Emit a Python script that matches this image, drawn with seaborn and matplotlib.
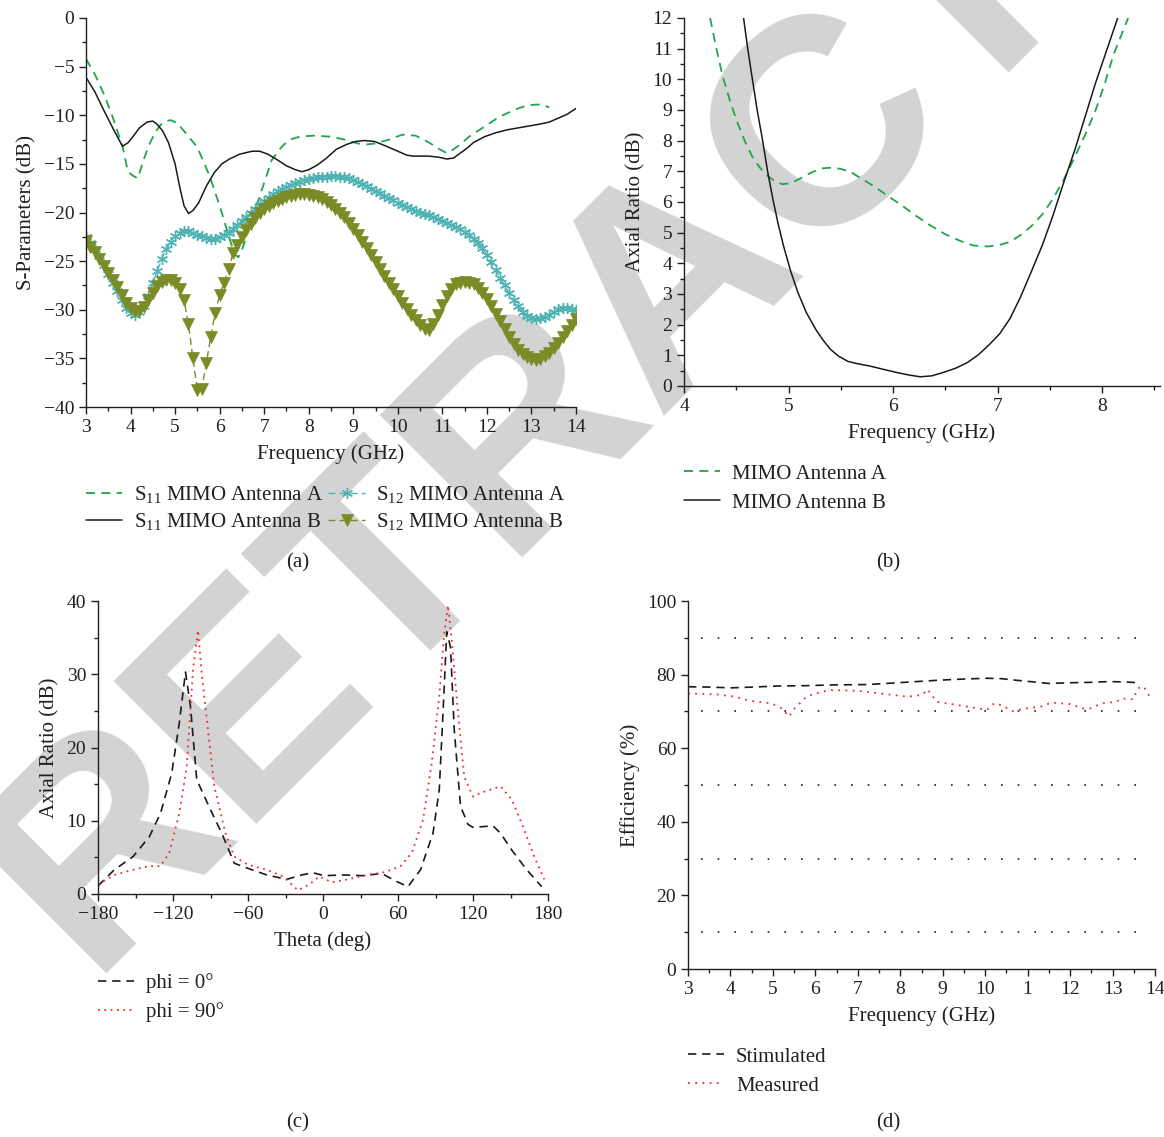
import numpy as np
import pandas as pd
import matplotlib
matplotlib.use("Agg")
import matplotlib.pyplot as plt
import seaborn as sns
from matplotlib.ticker import MultipleLocator, FixedLocator

# ---------------- data ----------------
# (a) S-parameters
s11a_f = [3.0, 3.2, 3.4, 3.6, 3.82, 3.94, 4.05, 4.16, 4.3, 4.42, 4.55, 4.67, 4.8, 4.9, 5.05, 5.27, 5.5, 5.78,
          6.0, 6.23, 6.34, 6.42, 6.52, 6.72, 6.91, 7.17, 7.4, 7.58, 7.8, 8.1, 8.5, 8.8, 9.1, 9.3, 9.5, 9.8,
          10.1, 10.4, 10.7, 10.9, 11.1, 11.25, 11.4, 11.6, 11.9, 12.2, 12.4, 12.7, 12.9, 13.1, 13.25, 13.4]
s11a_db = [-4.2, -5.8, -7.8, -10.2, -13.2, -15.8, -16.2, -16.5, -14.5, -13, -11.8, -11, -10.6, -10.5, -10.8,
           -12.0, -13.3, -16.3, -19.3, -22.8, -24.3, -24.6, -23.6, -20.8, -18.2, -14.6, -13.2, -12.5, -12.2,
           -12.1, -12.2, -12.5, -12.9, -13.0, -12.9, -12.5, -12.0, -12.1, -12.8, -13.4, -13.9, -13.5, -13.0,
           -12.2, -11.3, -10.4, -9.9, -9.3, -9.0, -8.9, -8.9, -9.2]

s11b_f = [3, 3.2, 3.39, 3.6, 3.82, 3.95, 4.07, 4.2, 4.37, 4.5, 4.59, 4.72, 4.85, 5.0, 5.1, 5.2, 5.3, 5.4, 5.53,
          5.7, 5.88, 6.05, 6.22, 6.45, 6.73, 6.9, 7.08, 7.3, 7.5, 7.7, 7.85, 8.0, 8.2, 8.4, 8.62, 8.85, 9.05,
          9.25, 9.48, 9.75, 10.0, 10.2, 10.34, 10.5, 10.68, 10.9, 11.1, 11.25, 11.37, 11.55, 11.7, 11.95,
          12.2, 12.45, 12.7, 12.95, 13.2, 13.4, 13.55, 13.8, 14.0]
s11b_db = [-6.1, -7.6, -9.4, -11.3, -13.2, -12.8, -12.1, -11.3, -10.7, -10.6, -10.9, -11.6, -12.8, -15.0,
           -17.3, -19.3, -20.1, -19.8, -19.0, -17.3, -15.9, -15.0, -14.5, -14.0, -13.7, -13.7, -14.0, -14.6,
           -15.2, -15.6, -15.8, -15.6, -15.1, -14.4, -13.5, -13.0, -12.7, -12.6, -12.7, -13.2, -13.7, -14.1,
           -14.2, -14.2, -14.2, -14.3, -14.5, -14.4, -14.0, -13.4, -12.8, -12.2, -11.8, -11.5, -11.3, -11.1,
           -10.9, -10.7, -10.4, -9.9, -9.3]

s12_f = [round(3.0 + 0.1 * i, 1) for i in range(111)]
s12a_db = [-22.5, -23.1, -23.8, -24.5, -25.4, -26.3, -27.2, -28.1, -29.0, -29.8,
           -30.3, -30.5, -30.2, -29.6, -28.6, -27.3, -26.0, -24.8, -23.8, -23.0,
           -22.4, -22.1, -21.9, -21.9, -22.1, -22.3, -22.4, -22.6, -22.7, -22.7,
           -22.5, -22.3, -22.1, -21.7, -21.3, -20.9, -20.5, -20.0, -19.6, -19.2,
           -18.8, -18.5, -18.1, -17.8, -17.6, -17.4, -17.2, -17.0, -16.9, -16.7,
           -16.6, -16.5, -16.4, -16.3, -16.3, -16.2, -16.2, -16.3, -16.4, -16.5,
           -16.7, -16.9, -17.1, -17.3, -17.6, -17.8, -18.0, -18.3, -18.5, -18.7,
           -19.0, -19.2, -19.4, -19.6, -19.8, -20.0, -20.2, -20.3, -20.5, -20.7,
           -20.9, -21.1, -21.3, -21.5, -21.7, -22.0, -22.3, -22.7, -23.1, -23.7,
           -24.4, -25.1, -25.9, -26.7, -27.5, -28.3, -29.0, -29.6, -30.2, -30.6,
           -30.8, -30.9, -30.8, -30.7, -30.5, -30.2, -29.9, -29.8, -29.8, -29.9, -30.0]
s12b_db = [-22.9, -23.5, -24.1, -24.8, -25.5, -26.2, -26.9, -27.7, -28.5, -29.3,
           -29.8, -30.1, -30.1, -29.7, -29.0, -28.3, -27.6, -27.1, -26.9, -26.9,
           -27.3, -27.9, -29.0, -31.5, -35.0, -38.3, -38.1, -35.5, -32.8, -30.3,
           -28.5, -27.2, -25.8, -24.2, -23.3, -22.5, -21.8, -21.2, -20.6, -20.1,
           -19.6, -19.3, -19.0, -18.8, -18.6, -18.4, -18.3, -18.2, -18.1, -18.1,
           -18.2, -18.3, -18.4, -18.6, -18.9, -19.2, -19.6, -20.0, -20.5, -21.1,
           -21.7, -22.3, -23.0, -23.7, -24.4, -25.1, -25.8, -26.5, -27.2, -27.9,
           -28.6, -29.3, -29.9, -30.5, -31.1, -31.6, -32.0, -32.1, -31.5, -30.5,
           -29.5, -28.6, -27.9, -27.4, -27.2, -27.1, -27.2, -27.4, -27.8, -28.3,
           -28.9, -29.6, -30.4, -31.2, -32.0, -32.8, -33.5, -34.1, -34.6, -34.9,
           -35.1, -35.2, -35.1, -34.8, -34.4, -33.9, -33.4, -32.8, -32.2, -31.6, -31.0]

# (b) axial ratio vs frequency
ara_f = [4.25, 4.31, 4.37, 4.44, 4.51, 4.58, 4.65, 4.72, 4.78, 4.86, 4.94, 5.03, 5.13, 5.23, 5.33, 5.42, 5.5,
         5.6, 5.68, 5.8, 5.95, 6.1, 6.22, 6.35, 6.5, 6.65, 6.77, 6.91, 7.02, 7.12, 7.22, 7.32, 7.43, 7.53,
         7.63, 7.73, 7.84, 7.94, 8.03, 8.11, 8.18, 8.25]
ara_db = [12, 11.0, 10.1, 9.3, 8.6, 8.0, 7.5, 7.15, 6.9, 6.7, 6.58, 6.62, 6.8, 6.98, 7.1, 7.12, 7.08, 6.97,
          6.8, 6.55, 6.2, 5.85, 5.55, 5.25, 4.95, 4.72, 4.58, 4.55, 4.6, 4.7, 4.92, 5.2, 5.6, 6.1, 6.7, 7.4,
          8.2, 9.0, 9.9, 10.8, 11.4, 12]
arb_f = [4.57, 4.61, 4.65, 4.7, 4.75, 4.8, 4.85, 4.9, 4.95, 5.02, 5.09, 5.17, 5.26, 5.33, 5.4, 5.48, 5.57,
         5.67, 5.78, 5.9, 6.05, 6.15, 6.26, 6.37, 6.47, 6.6, 6.71, 6.81, 6.91, 7.02, 7.12, 7.22, 7.32, 7.43,
         7.53, 7.63, 7.74, 7.84, 7.94, 8.05, 8.15]
arb_db = [12, 11.0, 10.1, 9.0, 8.05, 7.0, 6.1, 5.3, 4.6, 3.75, 3.05, 2.4, 1.85, 1.5, 1.2, 0.97, 0.8, 0.72,
          0.65, 0.55, 0.43, 0.36, 0.3, 0.33, 0.43, 0.58, 0.76, 1.0, 1.31, 1.7, 2.2, 2.9, 3.7, 4.6, 5.55,
          6.6, 7.7, 8.8, 9.9, 11.0, 12]

# (c) axial ratio vs theta
th0 = [-180, -167, -152, -139, -130, -121, -115, -110, -106, -101, -90, -81, -71, -60, -45, -29, -17, -8, 1,
       16, 32, 47, 59, 68, 78, 88, 93, 96, 99, 102, 105, 110, 116, 120, 136, 142, 151, 163, 175]
ar_phi0 = [1.1, 3.3, 5.1, 7.8, 11, 16.5, 23.3, 30.3, 25.6, 15.6, 11.5, 8.3, 4.2, 3.5, 2.6, 2.0, 2.6, 2.9,
           2.5, 2.6, 2.5, 2.8, 1.7, 1.0, 3.3, 8.3, 14.2, 24.7, 35.8, 33.7, 22.4, 12, 9.5, 9.1, 9.3, 8.3, 6,
           3.3, 1.0]
th90 = [-180, -167, -152, -139, -130, -123, -115, -109, -104, -100, -97, -92, -87, -78, -71, -60, -45, -32,
        -20, -11, -3, 7, 20, 35, 50, 62, 71, 80, 87, 93, 97, 100, 103, 108, 113, 120, 126, 142, 151, 160,
        169, 177]
ar_phi90 = [1.3, 2.6, 3.3, 3.8, 3.8, 5.6, 11, 17.4, 30.6, 36, 30.1, 22.4, 14.7, 8.3, 5.1, 4.0, 3.3, 2.4,
            0.5, 1.3, 2.4, 1.6, 2.0, 2.6, 3.0, 3.8, 5.6, 10.1, 17.9, 27, 35.6, 39.4, 34.6, 24.7, 16, 13.3,
            13.8, 14.7, 12.9, 9.2, 5.1, 2.0]

# (d) efficiency
sim_f = [3, 3.5, 4.03, 4.5, 5.13, 5.8, 6.4, 7.25, 8.1, 8.94, 9.5, 10.04, 10.38, 10.7, 11.06, 11.49, 12.07,
         12.5, 12.92, 13.3, 13.58]
sim_eff = [76.7, 76.6, 76.4, 76.6, 76.9, 77.0, 77.2, 77.3, 77.9, 78.5, 78.8, 79.0, 78.9, 78.5, 78.1, 77.6,
           77.8, 77.9, 78.1, 78.0, 77.8]
meas_f = [3, 3.69, 4.11, 4.45, 4.96, 5.21, 5.38, 5.51, 5.81, 6.32, 7.0, 7.5, 8.18, 8.52, 8.64, 8.86, 9.36,
          10.04, 10.21, 10.38, 10.64, 10.97, 11.31, 11.56, 11.99, 12.31, 12.47, 12.63, 12.77, 12.93, 13.08,
          13.22, 13.36, 13.49, 13.55, 13.63, 13.74, 13.82, 13.9]
meas_eff = [74.9, 74.6, 74.0, 72.9, 72.2, 70.8, 68.6, 70.8, 74.2, 75.8, 75.6, 74.9, 74.0, 74.5, 76.0, 72.6,
            71.7, 70.4, 72.2, 71.7, 70.1, 70.8, 71.3, 72.4, 72.0, 70.8, 70.8, 71.6, 72.2, 72.4, 72.6, 73.5,
            73.4, 73.3, 75.1, 76.5, 76.7, 75.1, 73.5]
eff_grid_levels = [10, 30, 50, 70, 90]
eff_xticks = [3, 4, 5, 6, 7, 8, 9, 10, 11, 12, 13, 14]
eff_xticklabels = ["3", "4", "5", "6", "7", "8", "9", "10", "1", "12", "13", "14"]

labels_a = [r"S$_{11}$ MIMO Antenna A", r"S$_{11}$ MIMO Antenna B",
            r"S$_{12}$ MIMO Antenna A", r"S$_{12}$ MIMO Antenna B"]
labels_b = ["MIMO Antenna A", "MIMO Antenna B"]
labels_c = ["phi = 0°", "phi = 90°"]
labels_d = ["Stimulated", "Measured"]

# ---------------- style ----------------
sns.set_theme(style="ticks")
plt.rcParams['font.family'] = ['Liberation Serif', 'DejaVu Serif']
plt.rcParams['mathtext.fontset'] = 'custom'
plt.rcParams['mathtext.rm'] = 'Liberation Serif'
plt.rcParams['mathtext.it'] = 'Liberation Serif:italic'
plt.rcParams['mathtext.bf'] = 'Liberation Serif:bold'
TXT = '#231f20'
FS = 15
TFS = 14
plt.rcParams.update({
    'font.size': FS, 'axes.labelsize': FS, 'xtick.labelsize': TFS, 'ytick.labelsize': TFS,
    'legend.fontsize': FS, 'text.color': TXT, 'axes.labelcolor': TXT,
    'xtick.color': TXT, 'ytick.color': TXT, 'axes.edgecolor': TXT, 'axes.linewidth': 1.0,
    'xtick.major.size': 5, 'ytick.major.size': 5, 'xtick.minor.size': 3, 'ytick.minor.size': 3,
    'xtick.major.width': 1.0, 'ytick.major.width': 1.0, 'xtick.minor.width': 1.0, 'ytick.minor.width': 1.0,
    'xtick.direction': 'out', 'ytick.direction': 'out',
})

GREEN = '#1fa54a'
TEAL = '#4fb3b3'
OLIVE = '#7b8c26'
BLACK = '#1a1a1a'
RED = '#ee2b35'

W, H = 1164, 1137
fig = plt.figure(figsize=(W / 100, H / 100), dpi=100)


def add_ax(left, top, right, bottom):
    ax = fig.add_axes([left / W, 1 - bottom / H, (right - left) / W, (bottom - top) / H])
    ax.patch.set_alpha(0)
    sns.despine(ax=ax)
    return ax


# watermark
fig.text(87 / W, 1 - 974 / H, "RETRACTED", fontsize=212, fontweight='bold', color='#d3d3d3',
         family='Liberation Sans', rotation=45, rotation_mode='anchor', ha='left', va='baseline', zorder=-10)

LEG = dict(frameon=False, handlelength=1.75, handletextpad=0.55, borderpad=0, borderaxespad=0,
           bbox_transform=fig.transFigure, loc='upper left')

# ---------------- (a) ----------------
ax = add_ax(86, 18, 576, 407)
sns.lineplot(x=s11a_f, y=s11a_db, ax=ax, color=GREEN, linestyle=(0, (5, 3.5)), lw=1.3, label=labels_a[0],
             sort=False)
sns.lineplot(x=s11b_f, y=s11b_db, ax=ax, color=BLACK, lw=1.1, label=labels_a[1], sort=False)
sns.lineplot(x=s12_f, y=s12a_db, ax=ax, color=TEAL, lw=1.0, linestyle=(0, (5, 3)), marker=(6, 2, 0),
             markersize=8, markeredgecolor=TEAL, markeredgewidth=1.0, label=labels_a[2], sort=False)
sns.lineplot(x=s12_f, y=s12b_db, ax=ax, color=OLIVE, lw=1.0, linestyle=(0, (5, 3)), marker='v',
             markersize=9, markeredgecolor=OLIVE, markerfacecolor=OLIVE, markeredgewidth=0.5,
             label=labels_a[3], sort=False)
ax.set_xlim(3, 14)
ax.set_ylim(-40, 0)
ax.xaxis.set_major_locator(MultipleLocator(1))
ax.xaxis.set_minor_locator(MultipleLocator(0.5))
ax.yaxis.set_major_locator(MultipleLocator(5))
ax.yaxis.set_minor_locator(MultipleLocator(2.5))
ax.set_xlabel("Frequency (GHz)", labelpad=6)
ax.set_ylabel("S-Parameters (dB)", labelpad=5)
h, l = ax.get_legend_handles_labels()
ax.legend(h, l, ncol=2, bbox_to_anchor=(86 / W, 1 - 484 / H), columnspacing=0.25, labelspacing=0.3, **LEG)

# ---------------- (b) ----------------
ax = add_ax(684, 18, 1160, 386)
sns.lineplot(x=ara_f, y=ara_db, ax=ax, color=GREEN, linestyle=(0, (5, 3.5)), lw=1.3, label=labels_b[0],
             sort=False)
sns.lineplot(x=arb_f, y=arb_db, ax=ax, color=BLACK, lw=1.1, label=labels_b[1], sort=False)
ax.set_xlim(4, 8.555)
ax.set_ylim(0, 12)
ax.xaxis.set_major_locator(MultipleLocator(1))
ax.xaxis.set_minor_locator(MultipleLocator(0.5))
ax.yaxis.set_major_locator(MultipleLocator(1))
ax.yaxis.set_minor_locator(MultipleLocator(0.5))
ax.set_xlabel("Frequency (GHz)", labelpad=6)
ax.set_ylabel("Axial Ratio (dB)", labelpad=5)
h, l = ax.get_legend_handles_labels()
ax.legend(h, l, bbox_to_anchor=(684 / W, 1 - 464 / H), labelspacing=0.45, **LEG)

# ---------------- (c) ----------------
ax = add_ax(98, 601, 548, 894)
sns.lineplot(x=th0, y=ar_phi0, ax=ax, color=BLACK, linestyle=(0, (5, 3.5)), lw=1.2, label=labels_c[0],
             sort=False)
sns.lineplot(x=th90, y=ar_phi90, ax=ax, color=RED, linestyle=(0, (1, 2.5)), lw=1.3, label=labels_c[1],
             sort=False)
ax.set_xlim(-180, 180)
ax.set_ylim(0, 40)
ax.xaxis.set_major_locator(MultipleLocator(60))
ax.xaxis.set_minor_locator(MultipleLocator(30))
ax.yaxis.set_major_locator(MultipleLocator(10))
ax.yaxis.set_minor_locator(MultipleLocator(5))
ax.set_xlabel("Theta (deg)", labelpad=6)
ax.set_ylabel("Axial Ratio (dB)", labelpad=5)
h, l = ax.get_legend_handles_labels()
ax.legend(h, l, bbox_to_anchor=(98 / W, 1 - 973 / H), labelspacing=0.45, **LEG)

# ---------------- (d) ----------------
ax = add_ax(688, 601, 1155, 969)
for lvl in eff_grid_levels:
    ax.hlines(lvl, 3.3, 13.85, colors=TXT, linestyles=(0, (1, 9)), lw=1.2)
sns.lineplot(x=sim_f, y=sim_eff, ax=ax, color=BLACK, linestyle=(0, (5, 3.5)), lw=1.2, label=labels_d[0],
             sort=False)
sns.lineplot(x=meas_f, y=meas_eff, ax=ax, color=RED, linestyle=(0, (1, 3)), lw=1.3, label=labels_d[1],
             sort=False)
ax.set_xlim(3, 14)
ax.set_ylim(0, 100)
ax.xaxis.set_major_locator(FixedLocator(eff_xticks))
ax.set_xticklabels(eff_xticklabels)
ax.xaxis.set_minor_locator(MultipleLocator(0.5))
ax.yaxis.set_major_locator(MultipleLocator(20))
ax.yaxis.set_minor_locator(MultipleLocator(10))
ax.set_xlabel("Frequency (GHz)", labelpad=6)
ax.set_ylabel("Efficiency (%)", labelpad=5)
h, l = ax.get_legend_handles_labels()
ax.legend(h, l, bbox_to_anchor=(688 / W, 1 - 1047 / H), labelspacing=0.45, **LEG)

# captions
for txt, x, y in [("(a)", 298, 563), ("(b)", 888, 563), ("(c)", 298, 1123), ("(d)", 888, 1123)]:
    fig.text(x / W, 1 - y / H, txt, ha='center', va='center', fontsize=FS)

fig.savefig("out.png", dpi=100)
